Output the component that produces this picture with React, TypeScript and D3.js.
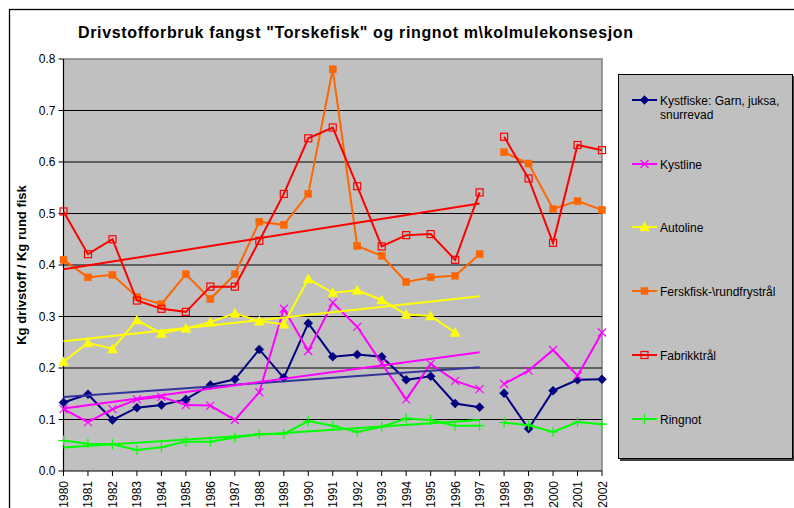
import React from "react";
import * as d3 from "d3";

const years = ["1980","1981","1982","1983","1984","1985","1986","1987","1988","1989","1990","1991","1992","1993","1994","1995","1996","1997","1998","1999","2000","2001","2002"];
const yTicks = [0, 0.1, 0.2, 0.3, 0.4, 0.5, 0.6, 0.7, 0.8];

const kystfiske = [0.133,0.149,0.099,0.123,0.128,0.139,0.167,0.178,0.236,0.181,0.287,0.222,0.226,0.222,0.177,0.184,0.131,0.124,0.151,0.082,0.156,0.177,0.178];
const kystline = [0.120,0.095,0.120,0.139,0.144,0.128,0.127,0.099,0.153,0.315,0.233,0.327,0.280,0.209,0.139,0.208,0.175,0.159,0.169,0.195,0.235,0.185,0.269];
const autoline = [0.212,0.249,0.237,0.293,0.267,0.277,0.289,0.306,0.291,0.285,0.373,0.346,0.351,0.332,0.304,0.301,0.269,null,null,null,null,null,null];
const ferskfisk = [0.410,0.376,0.381,0.338,0.324,0.382,0.334,0.382,0.484,0.478,0.538,0.780,0.437,0.418,0.367,0.376,0.379,0.421,0.619,0.597,0.509,0.524,0.507];
const fabrikk = [0.504,0.421,0.450,0.331,0.315,0.309,0.358,0.358,0.447,0.538,0.646,0.667,0.553,0.436,0.458,0.460,0.410,0.541,0.649,0.568,0.443,0.633,0.623];
const ringnot = [0.059,0.053,0.052,0.041,0.046,0.057,0.057,0.065,0.072,0.072,0.097,0.088,0.076,0.086,0.102,0.099,0.088,0.088,0.094,0.089,0.076,0.095,0.091];

const seriesNames = ["Kystfiske: Garn, juksa,|snurrevad", "Kystline", "Autoline", "Ferskfisk-\\rundfrystrål", "Fabrikktrål", "Ringnot"];
const seriesColors = ["#000080", "#FF00FF", "#FFFF00", "#FF6600", "#FF0000", "#00FF00"];
const trendColors = ["#333399", "#FF00FF", "#FFFF00", null, "#FF0000", "#00FF00"];
const markers = ["diamond", "x", "triangle", "square", "hollow", "plus"];
const seriesValues = [kystfiske, kystline, autoline, ferskfisk, fabrikk, ringnot];
const segmentEnd = 17; // data break between 1997 and 1998

const FONT = "Arial, 'Liberation Sans', sans-serif";

function Marker({ type, x, y, color }: { type: string; x: number; y: number; color: string }) {
  switch (type) {
    case "diamond":
      return <path d={`M${x},${y - 4.5}L${x + 4.5},${y}L${x},${y + 4.5}L${x - 4.5},${y}Z`} fill={color} stroke={color} strokeWidth={0.5} />;
    case "x":
      return <path d={`M${x - 4},${y - 4}L${x + 4},${y + 4}M${x - 4},${y + 4}L${x + 4},${y - 4}`} stroke={color} strokeWidth={1.2} />;
    case "triangle":
      return <path d={`M${x},${y - 5}L${x + 5},${y + 4}L${x - 5},${y + 4}Z`} fill={color} stroke={color} strokeWidth={0.5} />;
    case "square":
      return <rect x={x - 3.5} y={y - 3.5} width={7} height={7} fill={color} stroke={color} strokeWidth={0.5} />;
    case "hollow":
      return <rect x={x - 3.5} y={y - 3.5} width={7} height={7} fill="none" stroke={color} strokeWidth={1.2} />;
    case "plus":
      return <path d={`M${x - 5},${y}L${x + 5},${y}M${x},${y - 5}L${x},${y + 5}`} stroke={color} strokeWidth={1.2} />;
    default:
      return null;
  }
}

function regression(vals: (number | null)[]) {
  const pts: [number, number][] = [];
  vals.forEach((v, i) => { if (v != null && i <= segmentEnd) pts.push([i, v]); });
  const mx = d3.mean(pts, (p) => p[0]) as number;
  const my = d3.mean(pts, (p) => p[1]) as number;
  const sxy = d3.sum(pts, (p) => (p[0] - mx) * (p[1] - my));
  const sxx = d3.sum(pts, (p) => (p[0] - mx) * (p[0] - mx));
  const b = sxy / sxx;
  return (i: number) => my + b * (i - mx);
}

export default function App() {
  const left = 63.5, right = 602, top = 59, bottom = 471;
  const x = d3.scalePoint<string>().domain(years).range([left, right]);
  const y = d3.scaleLinear().domain([0, 0.8]).range([bottom, top]);

  const line = d3.line<[number, number | null]>()
    .defined((d) => d[1] != null)
    .x((d) => x(years[d[0]]) as number)
    .y((d) => y(d[1] as number));

  const segs = (vals: (number | null)[]) => {
    const a: [number, number | null][] = vals.map((v, i) => [i, v]);
    return [a.slice(0, segmentEnd + 1), a.slice(segmentEnd + 1)];
  };

  const legendYs = [100, 164, 227, 291, 355, 419];

  return (
    <svg width={794} height={508} style={{ position: "absolute", left: 0, top: 0, background: "#fff" }} fontFamily={FONT}>
      <rect x={0} y={0} width={794} height={508} fill="#fff" />
      <rect x={9.5} y={9.5} width={820} height={540} fill="#fff" stroke="#000" strokeWidth={1.3} />
      <text x={78} y={37.5} fontSize={16} fontWeight="bold" textLength={555} lengthAdjust="spacing">Drivstofforbruk fangst "Torskefisk" og ringnot m\kolmulekonsesjon</text>

      {/* plot area */}
      <rect x={left} y={top} width={right - left} height={bottom - top} fill="#C0C0C0" />
      <path d={`M${left},${top}H${right}V${bottom}`} fill="none" stroke="#808080" strokeWidth={1.5} />
      {yTicks.slice(1, -1).map((t) => (
        <line key={t} x1={left} x2={right} y1={y(t)} y2={y(t)} stroke="#000" strokeWidth={1} />
      ))}

      {/* axes */}
      <line x1={left} x2={left} y1={top} y2={bottom} stroke="#000" strokeWidth={1.2} />
      <line x1={left} x2={right} y1={bottom} y2={bottom} stroke="#000" strokeWidth={1.2} />
      {yTicks.map((t) => (
        <g key={t}>
          <line x1={left - 5} x2={left} y1={y(t)} y2={y(t)} stroke="#000" strokeWidth={1} />
          <text x={left - 8} y={y(t) + 4} textAnchor="end" fontSize={12}>{t.toFixed(1)}</text>
        </g>
      ))}
      {years.map((yr) => (
        <g key={yr}>
          <line x1={x(yr)} x2={x(yr)} y1={bottom} y2={bottom + 5} stroke="#000" strokeWidth={1} />
          <text transform={`translate(${(x(yr) as number) + 4.5},${bottom + 10}) rotate(-90)`} textAnchor="end" fontSize={12}>{yr}</text>
        </g>
      ))}
      <text transform={`translate(26,265) rotate(-90)`} textAnchor="middle" fontSize={13} fontWeight="bold">Kg drivstoff / Kg rund fisk</text>

      {/* series */}
      {seriesValues.map((vals, si) => (
        <g key={si}>
          {segs(vals).map((s, k) => (
            <path key={k} d={line(s) || ""} fill="none" stroke={seriesColors[si]} strokeWidth={2} />
          ))}
          {vals.map((v, i) => v == null ? null : (
            <Marker key={i} type={markers[si]} x={x(years[i]) as number} y={y(v)} color={seriesColors[si]} />
          ))}
        </g>
      ))}

      {/* trendlines */}
      {seriesValues.map((vals, si) => {
        const c = trendColors[si];
        if (!c) return null;
        const f = regression(vals);
        return (
          <line key={si} x1={x(years[0])} x2={x(years[segmentEnd])} y1={y(f(0))} y2={y(f(segmentEnd))} stroke={c} strokeWidth={2} />
        );
      })}

      {/* legend */}
      <rect x={620} y={76} width={175} height={385} fill="#404040" />
      <rect x={618.5} y={74.5} width={174} height={384} fill="#C0C0C0" stroke="#000" strokeWidth={1} />
      {seriesNames.map((name, si) => {
        const ly = legendYs[si];
        const parts = name.split("|");
        return (
          <g key={si}>
            <line x1={632} x2={657} y1={ly} y2={ly} stroke={seriesColors[si]} strokeWidth={2} />
            <Marker type={markers[si]} x={644.5} y={ly} color={seriesColors[si]} />
            {parts.map((p, k) => (
              <text key={k} x={660} y={ly + 4.5 + k * 14} fontSize={12}>{p}</text>
            ))}
          </g>
        );
      })}
    </svg>
  );
}
